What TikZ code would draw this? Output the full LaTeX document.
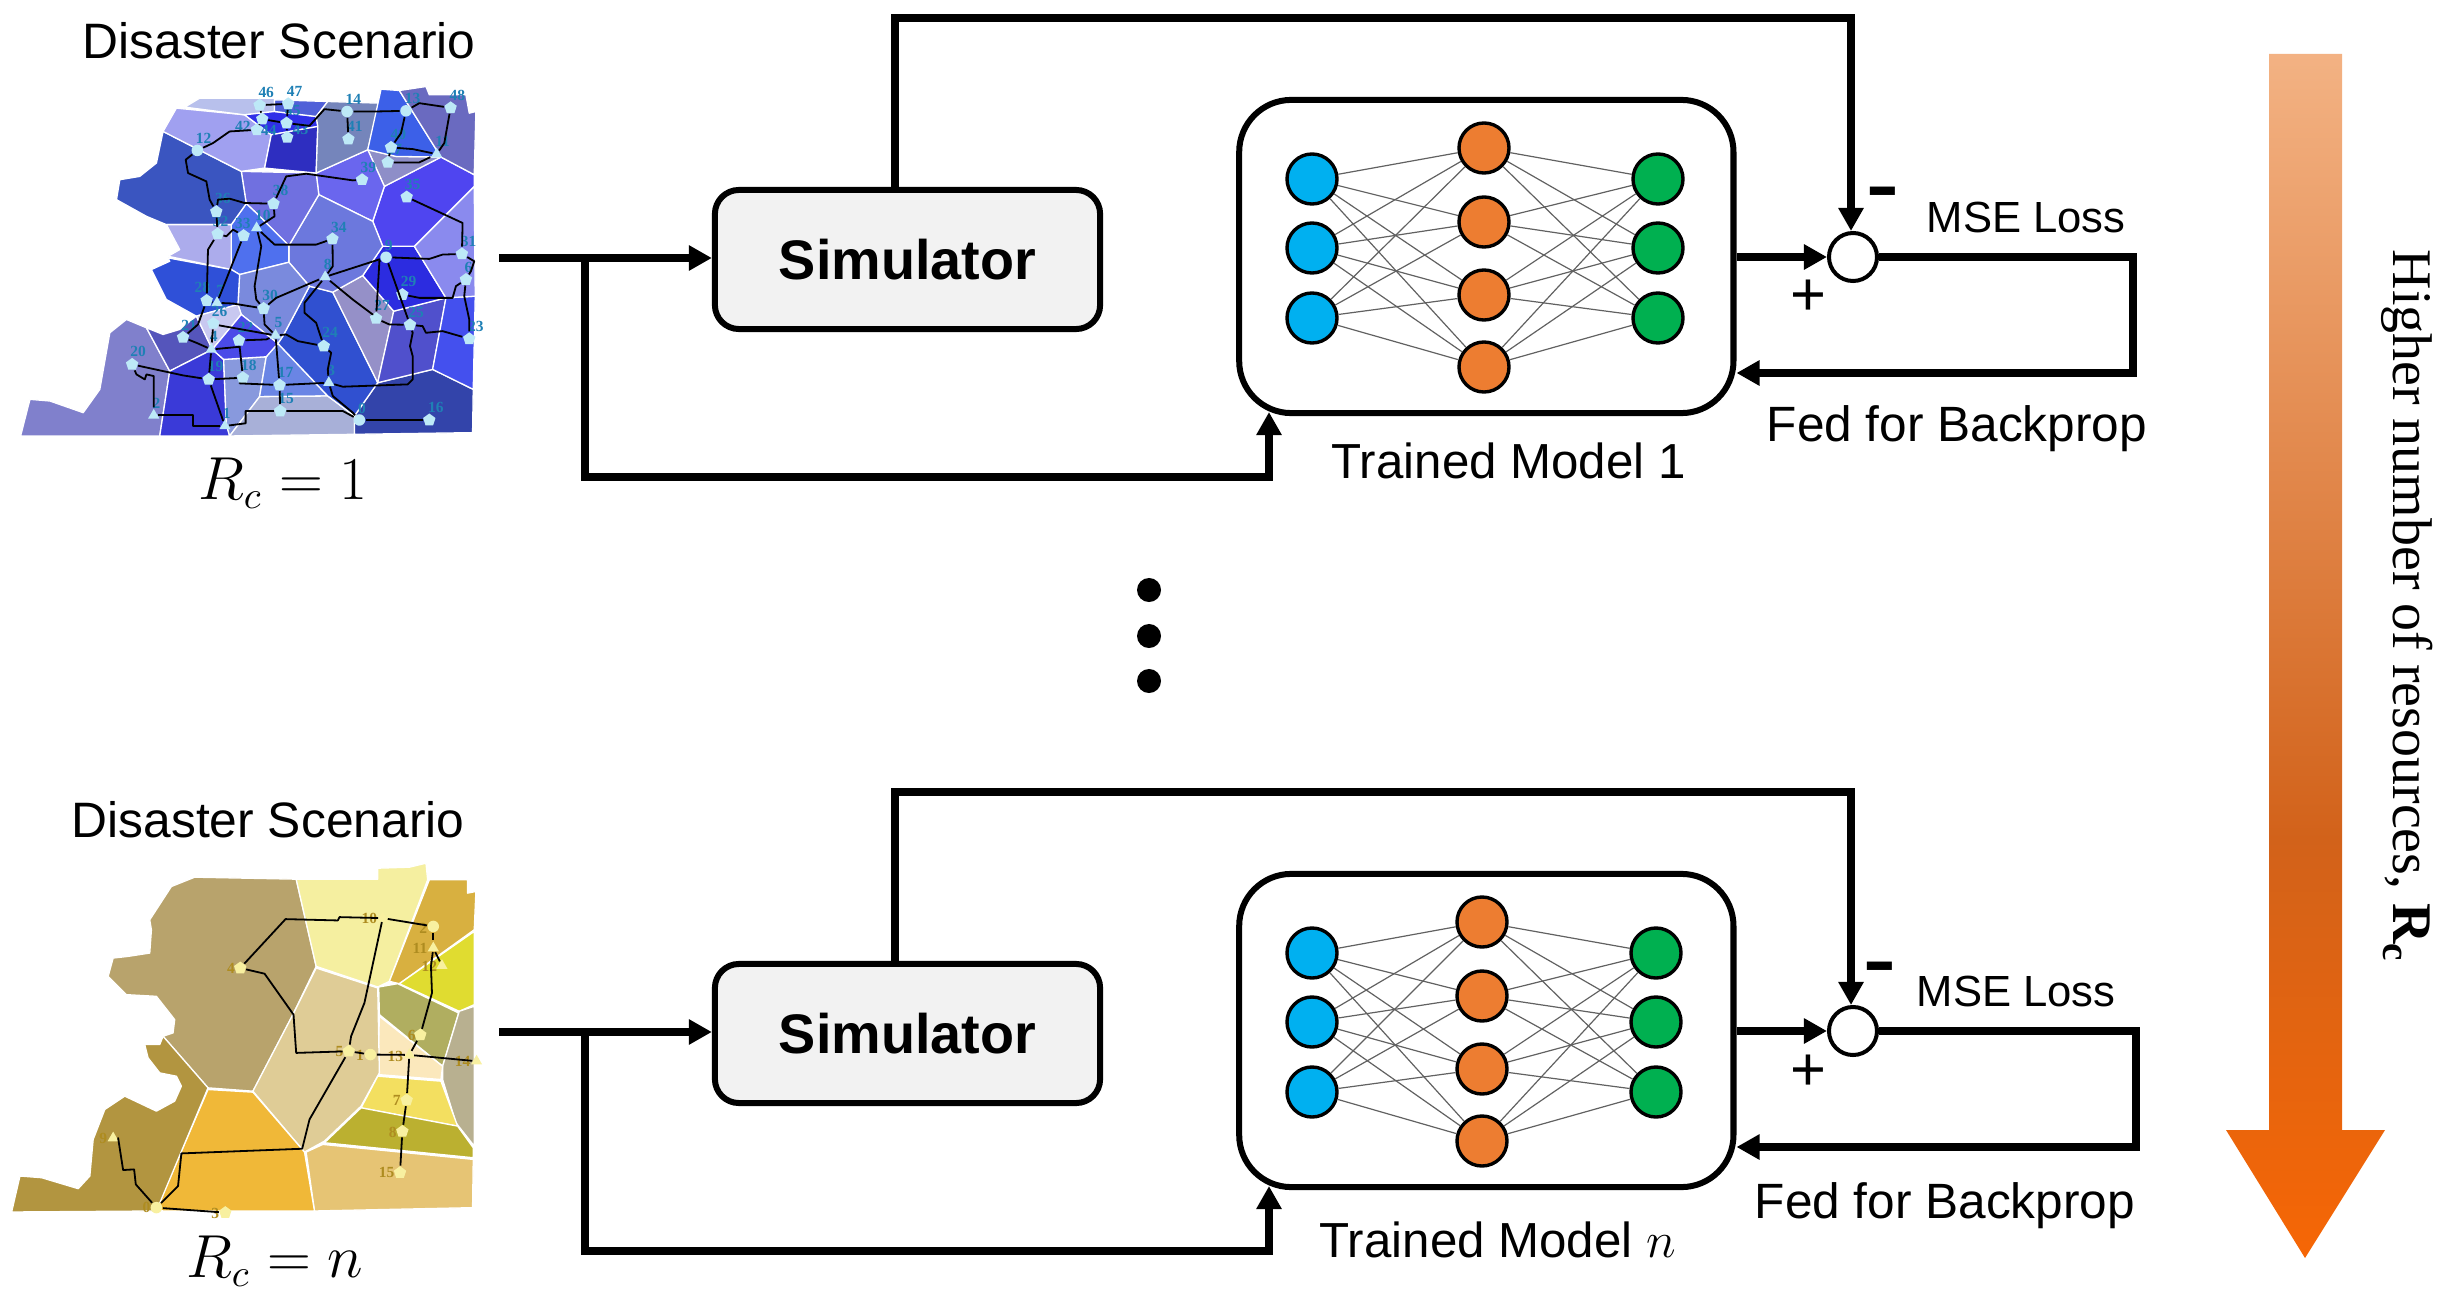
\documentclass[tikz,border=0pt]{standalone}
\usepackage{fontspec}
\setmainfont{Liberation Sans}
\newfontfamily\mapfont{Liberation Serif}
\usetikzlibrary{arrows.meta, shapes.geometric, positioning}

\definecolor{simgray}{HTML}{F2F2F2}
\definecolor{inblue}{HTML}{00B0F0}
\definecolor{hidorange}{HTML}{ED7D31}
\definecolor{outgreen}{HTML}{00B050}
\definecolor{arrowtop}{HTML}{F3B283}
\definecolor{arrowmid}{HTML}{D2621A}
\definecolor{arrowlow}{HTML}{F66605}
\definecolor{citya}{HTML}{BDE9F7}
\definecolor{cityb}{HTML}{F8F0A0}
\definecolor{labela}{HTML}{1F80B5}
\definecolor{labelb}{HTML}{AE8C20}

\pgfdeclareverticalshading{resbar}{100bp}{color(0bp)=(arrowlow); color(25bp)=(arrowlow); color(42.4bp)=(arrowmid); color(75bp)=(arrowtop); color(100bp)=(arrowtop)}

\newcommand{\mapcell}[2]{\definecolor{tmpcell}{HTML}{#1}\path[cellline, fill=tmpcell] #2 -- cycle;}

\tikzset{
    x=0.01cm, y=-0.01cm,
    >={Triangle[length=0.23cm, width=0.24cm]},
    flow/.style={line width=0.078cm},
    simbox/.style={draw, line width=0.06cm, rounded corners=0.24cm, fill=simgray, minimum width=3.85cm, minimum height=1.39cm, font=\fontsize{15.85}{18}\selectfont\bfseries},
    modelbox/.style={draw, line width=0.06cm, rounded corners=0.52cm, minimum width=4.94cm, minimum height=3.13cm},
    neuron/.style={circle, draw, line width=0.034cm, minimum size=0.5cm, inner sep=0pt},
    nnedge/.style={line width=0.012cm, draw=black!62},
    sumnode/.style={circle, draw, line width=0.04cm, fill=white, minimum size=0.48cm, inner sep=0pt},
    bigtext/.style={font=\fontsize{14}{16}\selectfont, anchor=base west, inner sep=0pt},
    titletext/.style={font=\fontsize{14.15}{16}\selectfont, anchor=base west, inner sep=0pt},
    rctext/.style={font=\fontsize{16}{18}\selectfont, anchor=base west, inner sep=0pt},
    dotnode/.style={circle, fill=black, minimum size=0.24cm, inner sep=0pt},
    cellline/.style={draw=white, line width=0.013cm, line join=round},
    road/.style={line width=0.018cm, line join=round},
    mcirc/.style={circle, minimum size=0.115cm, inner sep=0pt},
    mpent/.style={regular polygon, regular polygon sides=5, minimum size=0.13cm, inner sep=0pt},
    mtri/.style={regular polygon, regular polygon sides=3, minimum size=0.13cm, inner sep=0pt},
    maplabel/.style={font=\mapfont\bfseries\fontsize{4.4}{5}\selectfont, inner sep=0pt},
}

\begin{document}
\begin{tikzpicture}
\useasboundingbox (0,0) rectangle (2460,1297);

% first map
\begin{scope}[x=0.003333cm, y=-0.003333cm]
\mapcell{8080CC}{(62,1310) -- (90,1200) -- (150,1205) -- (250,1240) -- (300,1170) -- (330,1000) -- (380,960) -- (440,985) -- (510,1115) -- (480,1310)}
\mapcell{5555BB}{(440,985) -- (490,1005) -- (540,990) -- (590,950) -- (638,1050) -- (510,1115)}
\mapcell{3A3AD8}{(510,1115) -- (638,1050) -- (672,1080) -- (680,1275) -- (690,1310) -- (480,1310)}
\mapcell{8899DD}{(672,1080) -- (800,1072) -- (780,1192) -- (690,1310) -- (680,1275)}
\mapcell{6A85E5}{(800,1072) -- (835,1032) -- (985,1190) -- (780,1192)}
\mapcell{A8B0D8}{(780,1192) -- (985,1190) -- (1065,1250) -- (1065,1305) -- (690,1310)}
\mapcell{3344AA}{(1065,1305) -- (1065,1250) -- (1135,1150) -- (1300,1110) -- (1422,1170) -- (1420,1300)}
\mapcell{3050D0}{(850,1010) -- (930,860) -- (1000,878) -- (1135,1150) -- (1065,1250) -- (985,1190) -- (835,1032)}
\mapcell{9590C8}{(1000,878) -- (1090,828) -- (1183,935) -- (1135,1150)}
\mapcell{5050CC}{(1183,935) -- (1340,895) -- (1300,1110) -- (1135,1150)}
\mapcell{4450EE}{(1340,895) -- (1428,890) -- (1422,1170) -- (1300,1110)}
\mapcell{2C2CE0}{(1090,828) -- (1150,740) -- (1245,740) -- (1340,895) -- (1183,935)}
\mapcell{8A8AEE}{(1245,740) -- (1425,560) -- (1428,890) -- (1340,895)}
\mapcell{4F45F0}{(1155,560) -- (1325,472) -- (1425,525) -- (1425,560) -- (1245,740) -- (1150,740) -- (1120,665)}
\mapcell{8E8EC8}{(1105,450) -- (1190,470) -- (1325,472) -- (1155,560)}
\mapcell{6A66EE}{(950,520) -- (1105,450) -- (1155,560) -- (1120,665) -- (958,585)}
\mapcell{6C78DD}{(958,585) -- (1120,665) -- (1150,740) -- (1090,828) -- (1000,878) -- (930,860) -- (868,788) -- (868,738)}
\mapcell{7070E0}{(725,515) -- (950,520) -- (958,585) -- (868,738) -- (770,640) -- (740,612)}
\mapcell{4F70EE}{(740,612) -- (770,640) -- (868,738) -- (868,788) -- (720,825) -- (695,810) -- (695,675)}
\mapcell{7A8ADD}{(720,825) -- (868,788) -- (930,860) -- (850,1010) -- (835,1032) -- (725,945) -- (715,915)}
\mapcell{3A55C0}{(490,395) -- (725,515) -- (740,612) -- (695,675) -- (500,675) -- (440,650) -- (350,600) -- (360,540) -- (420,530) -- (470,490)}
\mapcell{ACACEC}{(500,675) -- (695,675) -- (695,810) -- (505,770) -- (540,750)}
\mapcell{2F50D8}{(505,775) -- (695,810) -- (720,825) -- (715,915) -- (590,950) -- (500,900) -- (455,810) -- (510,785)}
\mapcell{C8C8F0}{(590,950) -- (715,915) -- (725,945) -- (638,1050)}
\mapcell{4A4AE8}{(638,1050) -- (725,945) -- (835,1032) -- (800,1072) -- (672,1080)}
\mapcell{A0A0F0}{(530,325) -- (735,345) -- (815,405) -- (795,505) -- (725,515) -- (490,395)}
\mapcell{B8C0EC}{(555,322) -- (600,295) -- (825,295) -- (825,335) -- (735,345)}
\mapcell{3030E8}{(735,345) -- (825,335) -- (950,350) -- (955,380) -- (815,405)}
\mapcell{5060D8}{(825,300) -- (985,305) -- (950,350) -- (825,335)}
\mapcell{2E2EC0}{(815,405) -- (955,380) -- (950,520) -- (795,505)}
\mapcell{7585BB}{(955,380) -- (950,350) -- (985,305) -- (1140,310) -- (1105,450) -- (950,520)}
\mapcell{3C60E8}{(1145,268) -- (1200,272) -- (1325,472) -- (1190,470) -- (1105,450)}
\mapcell{6A6AC0}{(1200,272) -- (1280,260) -- (1290,285) -- (1400,285) -- (1410,340) -- (1430,335) -- (1425,525) -- (1325,472)}

\foreach \nid/\kind/\nx/\ny/\tx/\ty in {
    0/mcirc/1080/1262/1088/1228, 1/mtri/676/1280/681/1243, 2/mtri/462/1248/470/1212,
    3/mtri/988/1150/995/1112, 4/mtri/635/1050/642/1012, 5/mtri/828/1008/837/970,
    6/mpent/1400/840/1408/803, 7/mtri/652/910/662/873, 8/mtri/977/832/985/795,
    9/mcirc/1160/773/1168/738, 10/mtri/771/685/790/648, 11/mtri/1312/463/1330/425,
    12/mcirc/593/452/612/417, 13/mcirc/1220/333/1240/297, 14/mcirc/1043/335/1062/298,
    15/mpent/842/1235/860/1197, 16/mpent/1290/1262/1310/1223, 17/mpent/840/1157/858/1118,
    18/mpent/730/1135/748/1097, 19/mpent/627/1140/648/1100, 20/mpent/397/1095/415/1057,
    21/mpent/550/1014/568/977, 22/mpent/718/1023/738/985, 23/mpent/1410/1018/1430/980,
    24/mpent/973/1040/992/1000, 25/mpent/1232/976/1250/940, 26/mpent/641/972/660/935,
    27/mpent/1130/957/1148/918, 28/mpent/621/903/608/865, 29/mpent/1209/885/1228/847,
    30/mpent/792/927/812/888, 31/mpent/1388/763/1408/725, 32/mpent/654/703/663/665,
    33/mpent/732/708/730/670, 34/mpent/999/718/1018/682, 35/mpent/1222/592/1240/555,
    36/mpent/650/636/670/597, 37/mpent/1165/488/1185/450, 38/mpent/822/612/843/573,
    39/mpent/1088/540/1107/503, 40/mpent/1175/443/1197/405, 41/mpent/1047/418/1066/380,
    42/mpent/772/390/730/380, 43/mpent/863/413/903/390, 44/mpent/788/358/808/393,
    45/mpent/861/370/880/332, 46/mpent/780/316/800/278, 47/mpent/866/312/885/275,
    48/mpent/1354/324/1374/286} {
    \node [\kind, fill=citya] (a\nid) at (\nx,\ny) {};
    \node [maplabel, text=labela] (alabel\nid) at (\tx,\ty) {\nid};
}

\draw[road] (a12) -- (640,430) -- (690,395) -- (a42);
\draw[road] (a12) -- (558,480) -- (565,520) -- (620,545) -- (630,600) -- (a36);
\draw[road] (a36) -- (655,600) -- (690,597) -- (735,610) -- (a38);
\draw[road] (a36) -- (a32);
\draw[road] (a32) -- (680,710) -- (700,690) -- (a33);
\draw[road] (a38) -- (825,650) -- (a10);
\draw[road] (a33) -- (a7);
\draw[road] (a10) -- (785,740) -- (765,860) -- (770,900) -- (a30);
\draw[road] (a10) -- (825,735) -- (950,735) -- (a34);
\draw[road] (a34) -- (1000,800) -- (a8);
\draw[road] (a38) -- (860,530) -- (920,522) -- (1060,542) -- (a39);
\draw[road] (a42) -- (a44);
\draw[road] (a44) -- (a46);
\draw[road] (a46) -- (a47);
\draw[road] (a47) -- (a45);
\draw[road] (a44) -- (a45);
\draw[road] (a45) -- (a43);
\draw[road] (a45) -- (930,378) -- (975,328) -- (a14);
\draw[road] (a14) -- (a41);
\draw[road] (a14) -- (1130,335) -- (a13);
\draw[road] (a13) -- (1260,310) -- (a48);
\draw[road] (a48) -- (1335,430) -- (a11);
\draw[road] (a13) -- (1205,400) -- (a40);
\draw[road] (a40) -- (a37);
\draw[road] (a40) -- (1240,448) -- (a11);
\draw[road] (a37) -- (1260,488) -- (a11);
\draw[road] (a35) -- (1390,670) -- (a31);
\draw[road] (a31) -- (1330,765) -- (1290,778) -- (a9);
\draw[road] (a31) -- (1425,785) -- (1415,815) -- (a6);
\draw[road] (a9) -- (a8);
\draw[road] (a8) -- (830,895) -- (a30);
\draw[road] (a9) -- (a25);
\draw[road] (a9) -- (1140,785) -- (a27);
\draw[road] (a29) -- (1260,895) -- (1360,895) -- (1370,860) -- (a6);
\draw[road] (a6) -- (1395,890) -- (1410,960) -- (a23);
\draw[road] (a25) -- (1270,980) -- (1280,1000) -- (1330,995) -- (a23);
\draw[road] (a27) -- (1170,975) -- (a25);
\draw[road] (a8) -- (1060,900) -- (1120,945) -- (a27);
\draw[road] (a8) -- (915,910) -- (915,940) -- (950,970) -- (a24);
\draw[road] (a24) -- (895,1025) -- (860,1005) -- (a5);
\draw[road] (a24) -- (995,1060) -- (985,1110) -- (a3);
\draw[road] (a3) -- (1030,1162) -- (1225,1155) -- (1240,1140) -- (1240,1070) -- (1232,1040) -- (1240,1000) -- (a25);
\draw[road] (a3) -- (1000,1190) -- (1060,1240) -- (a0);
\draw[road] (a3) -- (a17);
\draw[road] (a17) -- (720,1152) -- (a18);
\draw[road] (a18) -- (a19);
\draw[road] (a18) -- (a22);
\draw[road] (a17) -- (a5);
\draw[road] (a17) -- (a15);
\draw[road] (a15) -- (1030,1235) -- (a0);
\draw[road] (a15) -- (738,1235) -- (738,1272) -- (a1);
\draw[road] (a0) -- (a16);
\draw[road] (a19) -- (a1);
\draw[road] (a1) -- (580,1280) -- (580,1248) -- (a2);
\draw[road] (a2) -- (462,1130) -- (440,1125) -- (435,1140) -- (410,1125) -- (a20);
\draw[road] (a20) -- (550,1128) -- (a19);
\draw[road] (a19) -- (a4);
\draw[road] (a4) -- (590,1030) -- (a21);
\draw[road] (a4) -- (720,1042) -- (a22);
\draw[road] (a22) -- (800,1020) -- (a5);
\draw[road] (a26) -- (660,978) -- (a5);
\draw[road] (a26) -- (a4);
\draw[road] (a7) -- (700,912) -- (a30);
\draw[road] (a7) -- (a28);
\draw[road] (a28) -- (625,750) -- (a32);
\draw[road] (a28) -- (595,975) -- (a21);
\draw[road] (a30) -- (795,975) -- (a5);
\end{scope}

% second map
\begin{scope}[shift={(0,780)}, x=0.003333cm, y=-0.003333cm]
\mapcell{B8A36C}{(890,298) -- (585,292) -- (515,320) -- (450,420) -- (455,450) -- (450,520) -- (385,530) -- (340,535) -- (325,590) -- (380,645) -- (470,650) -- (525,720) -- (520,760) -- (490,770) -- (625,925) -- (760,935) -- (880,705) -- (950,560)}
\mapcell{F5EFA0}{(890,298) -- (1135,298) -- (1135,265) -- (1230,262) -- (1280,250) -- (1285,300) -- (1170,605) -- (1135,622) -- (950,560)}
\mapcell{D8B040}{(1290,300) -- (1405,300) -- (1405,340) -- (1430,335) -- (1425,450) -- (1200,612) -- (1170,605)}
\mapcell{E0DC30}{(1425,455) -- (1425,675) -- (1380,695) -- (1200,612)}
\mapcell{B0AE60}{(1138,622) -- (1195,612) -- (1378,700) -- (1330,860) -- (1140,705)}
\mapcell{B8B090}{(1380,695) -- (1425,680) -- (1425,1100) -- (1370,1030) -- (1330,900) -- (1330,860)}
\mapcell{FBE8BC}{(1140,710) -- (1330,860) -- (1325,900) -- (1135,885)}
\mapcell{DFCC96}{(950,565) -- (1135,625) -- (1140,880) -- (1085,980) -- (975,1085) -- (915,1118) -- (760,935) -- (880,705)}
\mapcell{F3DF60}{(1135,890) -- (1325,905) -- (1375,1040) -- (1085,985)}
\mapcell{BBB030}{(1085,985) -- (1375,1040) -- (1422,1105) -- (1422,1135) -- (975,1090)}
\mapcell{E6C474}{(970,1095) -- (1422,1140) -- (1420,1285) -- (945,1295) -- (920,1118)}
\mapcell{F0B838}{(625,930) -- (760,938) -- (915,1118) -- (945,1295) -- (490,1295) -- (470,1290)}
\mapcell{B29540}{(625,925) -- (470,1295) -- (35,1298) -- (60,1190) -- (125,1195) -- (235,1228) -- (270,1190) -- (280,1080) -- (315,990) -- (375,950) -- (470,995) -- (525,965) -- (545,920) -- (530,890) -- (480,880) -- (445,835) -- (435,795) -- (480,795) -- (490,770)}

\foreach \nid/\kind/\nx/\ny/\tx/\ty in {
    0/mcirc/470/1285/440/1285, 1/mcirc/1113/825/1082/828, 2/mcirc/1302/440/1272/445,
    3/mpent/677/1300/647/1303, 4/mpent/722/565/694/567, 5/mpent/1048/815/1020/815,
    6/mpent/1263/766/1237/767, 7/mpent/1222/962/1192/962, 8/mpent/1209/1056/1180/1058,
    9/mtri/340/1076/310/1077, 10/mtri/1150/415/1110/415, 11/mtri/1302/505/1262/505,
    12/mtri/1328/558/1290/560, 13/mtri/1230/826/1188/830, 14/mtri/1432/845/1390/845,
    15/mpent/1202/1180/1162/1180} {
    \node [\kind, fill=cityb] (b\nid) at (\nx,\ny) {};
    \node [maplabel, text=labelb] (blabel\nid) at (\tx,\ty) {\nid};
}

\draw[road] (b0) -- (408,1215) -- (403,1170) -- (370,1172) -- (355,1076) -- (b9);
\draw[road] (b0) -- (b3);
\draw[road] (b0) -- (535,1220) -- (545,1122) -- (908,1108) -- (930,1020) -- (b5);
\draw[road] (b4) -- (858,418) -- (1015,422) -- (1020,412) -- (b10);
\draw[road] (b4) -- (795,582) -- (882,705) -- (890,820) -- (b5);
\draw[road] (b5) -- (1055,770) -- (1095,670) -- (b10);
\draw[road] (b5) -- (b1);
\draw[road] (b1) -- (b13);
\draw[road] (b13) -- (b14);
\draw[road] (b10) -- (b2);
\draw[road] (b2) -- (b11);
\draw[road] (b11) -- (b12);
\draw[road] (b11) -- (1295,560) -- (1298,640) -- (b6);
\draw[road] (b6) -- (b13);
\draw[road] (b13) -- (b7);
\draw[road] (b7) -- (b8);
\draw[road] (b8) -- (b15);
\end{scope}

\node [titletext] (title1) at (82,59) {Disaster Scenario};
\node [titletext] (titlen) at (71,837) {Disaster Scenario};
\node [rctext] (rc1) at (198,499) {$R_c = 1$};
\node [rctext] (rcn) at (186,1277) {$R_c = n$};

% the two training rows
\foreach \pn/\dy/\sx/\lx/\hx/\ox/\mx/\fx/\fb/\tx/\tb/\minx/\mname in {
    1/0/1853/2133/1484/1658/1926/1766/441/1331/478/1883/1,
    n/774/1853/2136/1482/1656/1916/1754/444/1319/483/1880/$n$} {
\begin{scope}[shift={(0,\dy)}]
\draw
    node [simbox] (sim\pn) at (907.5,259.5) {\raisebox{-0.03cm}{Simulator}}
    node [modelbox, right=1.33cm of sim\pn, yshift=0.03cm] (model\pn) {}
    node [sumnode] (sum\pn) at (\sx,257) {}
;
\foreach \i/\ny in {1/179,2/248,3/318} {
    \node [neuron, fill=inblue] (in\pn\i) at (1312,\ny) {};
    \node [neuron, fill=outgreen] (out\pn\i) at (\ox,\ny) {};
}
\foreach \j/\ny in {1/148,2/222,3/295,4/367}
    \node [neuron, fill=hidorange] (hid\pn\j) at (\hx,\ny) {};
\foreach \i in {1,2,3}
    \foreach \j in {1,2,3,4} {
        \draw[nnedge] (in\pn\i) -- (hid\pn\j);
        \draw[nnedge] (hid\pn\j) -- (out\pn\i);
    }
\coordinate (start\pn) at (499,258);
\coordinate (branch\pn) at (585,258);
\draw[->, flow] (start\pn) -- (sim\pn.west |- start\pn);
\draw[->, flow] (branch\pn) -- (585,477) -- (1269,477) -- (1269,412);
\draw[->, flow] (895,187) -- (895,18) -- (1851,18) -- (1851,231);
\draw[->, flow] (model\pn.east |- sum\pn) -- (sum\pn.west);
\draw[->, flow] (sum\pn.east) -- (\lx,257) -- (\lx,373) -- (model\pn.east |- 0,373);
\node [font=\fontsize{12.4}{14}\selectfont, anchor=base west, inner sep=0pt] (mse\pn) at (\mx,232) {MSE Loss};
\node [bigtext, font=\fontsize{14.1}{16}\selectfont] (fed\pn) at (\fx,\fb) {Fed for Backprop};
\node [bigtext] (trained\pn) at (\tx,\tb) {Trained Model \mname};
\node [font=\fontsize{20}{24}\selectfont\bfseries, anchor=base, inner sep=0pt] (minus\pn) at (\minx,210) {\scalebox{1.4}[1]{-}};
\node [font=\fontsize{17.5}{20}\selectfont, anchor=base, inner sep=0pt] (plus\pn) at (1808.5,316) {+};
\end{scope}
}

\foreach \i/\ny in {1/590,2/636,3/681}
    \node [dotnode] (dot\i) at (1149,\ny) {};

\shade[shading=resbar] (2269,54) -- (2342,54) -- (2342,1130) -- (2385,1130) -- (2305,1258) -- (2226,1130) -- (2269,1130) -- cycle;
\node [font=\mapfont\fontsize{15.9}{18}\selectfont, rotate=-90, anchor=base west, inner sep=0pt] (resources) at (2393,249) {Higher number of resources, \textbf{R\textsubscript{c}}};
\end{tikzpicture}
\end{document}
